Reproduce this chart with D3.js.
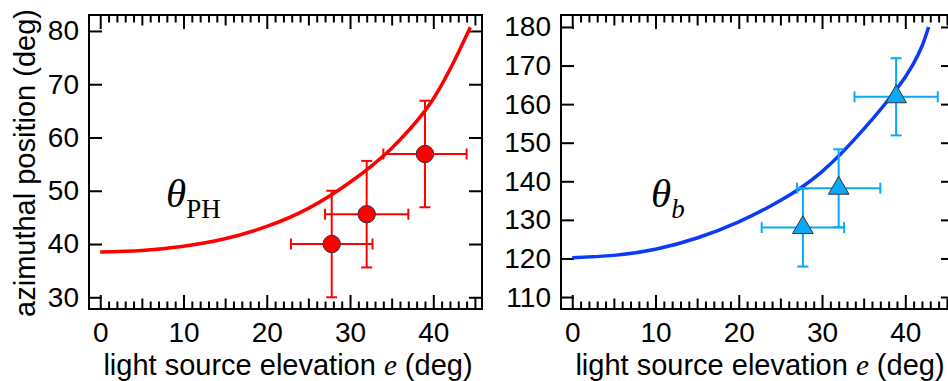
<!DOCTYPE html>
<html>
<head>
<meta charset="utf-8">
<script src="https://cdn.jsdelivr.net/npm/d3@7"></script>
<style>
  body { margin: 0; background: #fff; }
  svg { display: block; }
  .tick text { font-family: "Liberation Sans", Arial, sans-serif; font-size: 28px; fill: #000; }
  .title { font-family: "Liberation Sans", Arial, sans-serif; font-size: 29px; fill: #000; }
</style>
</head>
<body>
<svg id="chart" width="948" height="381"></svg>
<script>
// fitted curves (elevation e, angle)
const phCurveE = [0, 5, 10, 15, 20, 25, 30, 35, 39, 40.8, 42.5, 44.45];
const phCurveT = [38.5, 38.8, 39.6, 41.0, 43.3, 46.7, 51.6, 58.0, 65.0, 69.3, 74.3, 80.7];
const bCurveE = [0, 5, 10, 15, 20, 25, 30, 35, 39, 40.9, 42, 42.8];
const bCurveT = [120.2, 120.8, 122.4, 125.3, 129.5, 135.0, 142.5, 153.5, 164.0, 170.2, 175.0, 180.0];

// measured points with error bars
const phE = [27.8, 32.0, 39.0];
const phEerr = [4.9, 5.0, 5.0];
const phT = [40.0, 45.6, 56.9];
const phTerr = [10, 10, 10];
const bE = [27.7, 32.0, 38.9];
const bEerr = [4.95, 5.0, 5.0];
const bT = [128.0, 138.2, 161.9];
const bTerr = [10.1, 10.1, 10.0];

const xTicks = [0, 10, 20, 30, 40];
const phTicks = [30, 40, 50, 60, 70, 80];
const bTicks = [110, 120, 130, 140, 150, 160, 170, 180];

const svg = d3.select("#chart");

function panel(opt) {
  const g = svg.append("g");
  const x = d3.scaleLinear().domain([-1.35, 45.85]).range([opt.left, opt.left + 393]);
  const y = d3.scaleLinear().domain(opt.yDomain).range([309, 15]);

  // minor / medium / major ticks on bottom and top
  const minor = d3.range(0, 46, 1).filter(d => d % 5 !== 0);
  const medium = d3.range(5, 46, 10);
  [[minor, 7.5], [medium, 10.5]].forEach(([vals, len]) => {
    g.append("g").attr("transform", `translate(0,309)`)
      .call(d3.axisBottom(x).tickValues(vals).tickSizeInner(-len).tickSizeOuter(0).tickFormat(""));
    g.append("g").attr("transform", `translate(0,15)`)
      .call(d3.axisTop(x).tickValues(vals).tickSizeInner(-len).tickSizeOuter(0).tickFormat(""));
  });
  g.append("g").attr("transform", `translate(0,309)`)
    .call(d3.axisBottom(x).tickValues(xTicks).tickSizeInner(-14).tickSizeOuter(0).tickPadding(13));
  g.append("g").attr("transform", `translate(0,15)`)
    .call(d3.axisTop(x).tickValues(xTicks).tickSizeInner(-14).tickSizeOuter(0).tickFormat(""));

  g.append("g").attr("transform", `translate(${opt.left},0)`)
    .call(d3.axisLeft(y).tickValues(opt.yTicks).tickSizeInner(-13).tickSizeOuter(0).tickPadding(10));
  g.append("g").attr("transform", `translate(${opt.left + 393},0)`)
    .call(d3.axisRight(y).tickValues(opt.yTicks).tickSizeInner(-13).tickSizeOuter(0).tickFormat(""));

  g.selectAll(".domain").remove();
  g.selectAll(".tick line").attr("stroke", "#000").attr("stroke-width", 2);

  g.append("rect")
    .attr("x", opt.left).attr("y", 15)
    .attr("width", 393).attr("height", 294)
    .attr("fill", "none").attr("stroke", "#000").attr("stroke-width", 2);

  // fitted curve
  const line = d3.line().x(d => x(d[0])).y(d => y(d[1])).curve(d3.curveNatural);
  g.append("path")
    .datum(d3.zip(opt.curveE, opt.curveT))
    .attr("d", line)
    .attr("fill", "none").attr("stroke", opt.curveColor).attr("stroke-width", 3.5);

  // error bars
  const pts = opt.e.map((e, i) => ({ e, de: opt.de[i], t: opt.t[i], dt: opt.dt[i] }));
  const eb = g.append("g").attr("stroke", opt.barColor).attr("stroke-width", 2).attr("fill", "none");
  const cap = 5.5;
  pts.forEach(p => {
    eb.append("line").attr("x1", x(p.e - p.de)).attr("x2", x(p.e + p.de)).attr("y1", y(p.t)).attr("y2", y(p.t));
    eb.append("line").attr("x1", x(p.e)).attr("x2", x(p.e)).attr("y1", y(p.t - p.dt)).attr("y2", y(p.t + p.dt));
    [p.e - p.de, p.e + p.de].forEach(v => eb.append("line")
      .attr("x1", x(v)).attr("x2", x(v)).attr("y1", y(p.t) - cap).attr("y2", y(p.t) + cap));
    [p.t - p.dt, p.t + p.dt].forEach(v => eb.append("line")
      .attr("x1", x(p.e) - cap).attr("x2", x(p.e) + cap).attr("y1", y(v)).attr("y2", y(v)));
  });

  // markers
  g.selectAll(".marker")
    .data(pts)
    .enter()
    .append("path")
    .attr("class", "marker")
    .attr("transform", d => `translate(${x(d.e)},${y(d.t)})`)
    .attr("d", d3.symbol().type(opt.symbol).size(opt.symbolSize))
    .attr("fill", opt.markerColor)
    .attr("stroke", "#333").attr("stroke-width", 1);

  // axis titles
  const xt = g.append("text").attr("class", "title")
    .attr("x", opt.left + 199).attr("y", 375).attr("text-anchor", "middle");
  xt.append("tspan").text("light source elevation ");
  xt.append("tspan").text("e").attr("font-family", "Liberation Serif, Times New Roman, serif").attr("font-style", "italic");
  xt.append("tspan").text(" (deg)");

  // series label
  const lab = g.append("text")
    .attr("x", opt.labelX).attr("y", 207)
    .attr("font-family", "Liberation Serif, Times New Roman, serif");
  lab.append("tspan").text("θ").attr("font-style", "italic").attr("font-size", 41);
  lab.append("tspan").text(opt.sub).attr("font-size", 27).attr("dy", 11)
    .attr("font-style", opt.subItalic ? "italic" : "normal");
}

panel({
  left: 89, yDomain: [27.8, 83.0], yTicks: phTicks,
  curveE: phCurveE, curveT: phCurveT, curveColor: "#ff0000",
  e: phE, de: phEerr, t: phT, dt: phTerr, barColor: "#ff0000",
  symbol: d3.symbolCircle, symbolSize: Math.PI * 8.7 * 8.7, markerColor: "#ff0000",
  labelX: 166, sub: "PH", subItalic: false
});

panel({
  left: 561, yDomain: [106.9, 183.1], yTicks: bTicks,
  curveE: bCurveE, curveT: bCurveT, curveColor: "#0a3cf5",
  e: bE, de: bEerr, t: bT, dt: bTerr, barColor: "#0aa8f5",
  symbol: d3.symbolTriangle, symbolSize: 185, markerColor: "#0aa8f5",
  labelX: 651, sub: "b", subItalic: true
});

svg.append("text").attr("class", "title")
  .attr("transform", "translate(35,163) rotate(-90)")
  .attr("text-anchor", "middle")
  .text("azimuthal position (deg)");
</script>
</body>
</html>
